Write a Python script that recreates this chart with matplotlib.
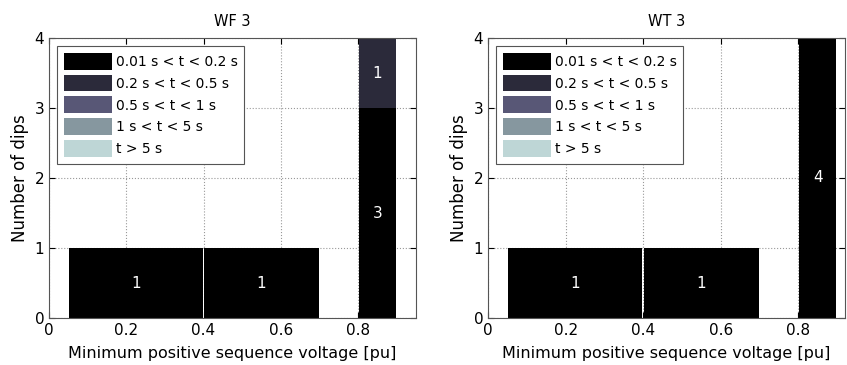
import matplotlib
matplotlib.use("Agg")
import matplotlib.pyplot as plt
import numpy as np

# bins of minimum positive sequence voltage [pu]
bin_left = [0.05, 0.4, 0.8]
bin_right = [0.4, 0.7, 0.9]

duration_labels = ["0.01 s < t < 0.2 s", "0.2 s < t < 0.5 s", "0.5 s < t < 1 s",
                   "1 s < t < 5 s", "t > 5 s"]
duration_colors = ["#000000", "#2b2a3a", "#585776", "#86979f", "#bed6d6"]

# counts per duration class (rows) and voltage bin (cols)
wf3_counts = [[1, 1, 3],
              [0, 0, 1],
              [0, 0, 0],
              [0, 0, 0],
              [0, 0, 0]]
wt3_counts = [[1, 1, 4],
              [0, 0, 0],
              [0, 0, 0],
              [0, 0, 0],
              [0, 0, 0]]

titles = ["WF 3", "WT 3"]
xlims = [0.95, 0.92]

fig = plt.figure(figsize=(8.47, 3.65), dpi=100)
axes = [fig.add_axes([49 / 847, 47 / 365, 367 / 847, 280 / 365]),
        fig.add_axes([488 / 847, 47 / 365, 357 / 847, 280 / 365])]

num_font = ["Liberation Sans Narrow", "DejaVu Sans"]
gap = 0.004  # thin white gap between neighbouring bars

for ax, counts, title, xmax in zip(axes, [wf3_counts, wt3_counts], titles, xlims):
    counts = np.array(counts)
    left = np.array(bin_left)
    width = np.array(bin_right) - left
    bottom = np.zeros(len(left))
    for k in range(len(duration_labels)):
        ax.bar(left + gap / 2, counts[k], width=width - gap, bottom=bottom, align="edge",
               color=duration_colors[k], edgecolor="none",
               label=duration_labels[k], zorder=2)
        for i in range(len(left)):
            if counts[k, i] > 0:
                ax.text(left[i] + width[i] / 2, bottom[i] + counts[k, i] / 2,
                        str(counts[k, i]), color="white", fontsize=11,
                        family=num_font, ha="center", va="center", zorder=3)
        bottom = bottom + counts[k]

    ax.set_xlim(0, xmax)
    ax.set_ylim(0, 4)
    ax.set_xticks([0, 0.2, 0.4, 0.6, 0.8])
    ax.set_xticklabels(["0", "0.2", "0.4", "0.6", "0.8"])
    ax.set_yticks([0, 1, 2, 3, 4])
    ax.tick_params(direction="in", labelsize=11, length=4, top=True, right=True)
    ax.grid(True, linestyle=":", color="#999999", linewidth=0.8, zorder=0)
    ax.set_axisbelow(True)
    for s in ax.spines.values():
        s.set_color("#555555")
        s.set_linewidth(0.8)
    ax.set_title(title, fontsize=10.5, pad=9)
    ax.set_xlabel("Minimum positive sequence voltage [pu]", fontsize=11.5, labelpad=6)
    ax.set_ylabel("Number of dips", fontsize=12, labelpad=4)
    leg = ax.legend(loc="upper left", fontsize=10, handlelength=3.5, handleheight=1.5,
                    handletextpad=0.3, labelspacing=0.36, borderpad=0.45,
                    fancybox=False, framealpha=1, borderaxespad=0.6)
    leg.get_frame().set_edgecolor("#555555")
    leg.get_frame().set_linewidth(0.8)

fig.savefig("out.png", dpi=100)
